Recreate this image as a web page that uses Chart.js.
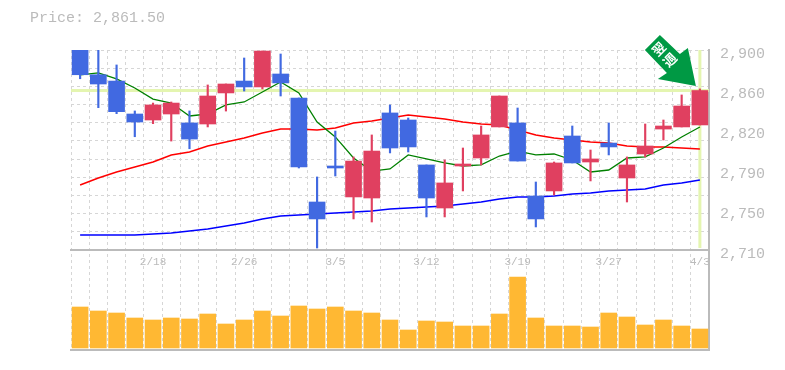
<!DOCTYPE html>
<html><head><meta charset="utf-8">
<style>html,body{margin:0;padding:0;background:#fff}#w{width:785px;height:370px;position:relative}</style>
<script src="https://cdn.jsdelivr.net/npm/chart.js@4"></script>
</head><body><div id="w"><canvas id="c" width="785" height="370"></canvas></div>
<script>
const categories=['2/12','2/13','2/14','2/15','2/18','2/19','2/20','2/21','2/22','2/26','2/27','2/28','3/1','3/4','3/5','3/6','3/7','3/8','3/11','3/12','3/13','3/14','3/15','3/18','3/19','3/20','3/22','3/25','3/26','3/27','3/28','3/29','4/1','4/2','4/3'];
const shownDates=['2/18','2/26','3/5','3/12','3/19','3/27','4/3'];
const opens=[2909.5,2876.5,2870.5,2839.2,2833.5,2839.2,2830.7,2829.7,2859.2,2870.5,2864.9,2877.2,2854.4,2755.6,2789.8,2760.4,2759.4,2840.2,2833.5,2790.8,2749.9,2789.8,2797.4,2826.9,2830.7,2761.3,2766.1,2818.3,2793.6,2811.6,2778.4,2801.2,2824.9,2826.9,2828.8];
const closes=[2876.5,2867.7,2841.4,2831.6,2847.8,2849.6,2815.4,2856.3,2867.7,2864.9,2899,2868.7,2788.9,2739.5,2787.9,2794.5,2804,2806.9,2807.9,2759.4,2773.7,2791.7,2819.3,2856.3,2794.5,2739.5,2792.7,2792.7,2796.5,2807.9,2790.8,2808.8,2827.8,2846.8,2861.5];
const highs=[2914,2904.8,2885.8,2842.1,2849.6,2850.6,2842.1,2866.8,2867.7,2892.4,2899,2896.2,2854.4,2779.4,2823,2798.4,2819.3,2847.8,2835.4,2790.8,2795.5,2806.9,2827.8,2856.3,2844.9,2774.6,2793.6,2827.8,2805,2830.7,2798.4,2829.7,2833.5,2857.3,2863];
const lows=[2872.7,2845.2,2839.5,2817.6,2830,2813.5,2806.2,2826.9,2842,2861,2863,2856.3,2787.9,2711.9,2780.3,2739.5,2736.6,2802.2,2803.1,2741.4,2741.4,2766.1,2790.8,2826.9,2794.5,2731.9,2762.3,2792.7,2775.6,2800.3,2755.6,2798.4,2814.5,2826.9,2828.8];
const maShort=[2876.3,2878.2,2872.5,2863.9,2853.4,2849.6,2837.3,2839.2,2847.8,2850.6,2860.1,2869.6,2859.2,2831.6,2817.4,2797.4,2785,2787,2800.3,2796.5,2792.7,2789.8,2790.8,2799.3,2804,2800.3,2801.2,2795.5,2784.1,2786,2797.4,2798.4,2806.9,2817.4,2826.9];
const maMid=[2771.8,2778.4,2784.1,2788.9,2793.6,2800.3,2803.1,2808.8,2812.6,2816.4,2821.2,2825,2825,2824,2825.9,2830.7,2832.6,2835.4,2838.3,2836.4,2834.5,2831.6,2829.7,2828.8,2824,2819.3,2816.4,2814.5,2812.6,2811.6,2808.8,2807.9,2807.9,2806.9,2806];
const maLong=[2724.3,2724.3,2724.3,2724.3,2725.2,2726.2,2728.1,2730,2732.8,2735.7,2739.5,2742.3,2743.3,2744.2,2745.2,2746.1,2747.1,2749,2749.9,2750.9,2751.8,2753.7,2755.6,2758.5,2760.4,2760.4,2761.3,2763.2,2764.2,2766.1,2767,2768,2771.8,2773.7,2776.5];
const volumes=[41,37,35,30,28,30,29,34,24,28,37,32,42,39,41,37,35,28,18,27,26,22,22,34,71,30,22,22,21,35,31,23,28,22,19];
const priceLabel='Price: 2,861.50';
const lastPrice=2861.5;
const yLabelValues=[2900,2862,2824,2786,2748,2710];
const arrowText=['翌','週'];

const BLUE='#4169E1',RED='#E04060',GREY='#bbbbbb',GRID='#d6d6d6',HILITE='#e4f5b0',GREEN='#009944';
const upDown=opens.map((o,i)=>closes[i]>=o?RED:BLUE);
const yMax=2900,yBase=2710,yMin=2615;
const gridValues=[];for(let k=0;k<=11;k++)gridValues.push(yMax-k*(yMax-yBase)/11);

const overlay={id:'overlay',
 beforeDatasetsDraw(ch){
  const {ctx,chartArea:a,scales:{x,y}}=ch;
  const py=y.getPixelForValue(lastPrice),px=x.getPixelForValue(categories.length-1);
  ctx.save();ctx.fillStyle=HILITE;
  ctx.fillRect(a.left,py-1.5,a.width,3);
  ctx.fillRect(px-1.5,a.top,3,y.getPixelForValue(yBase)-2-a.top);
  ctx.restore();
 },
 afterDatasetsDraw(ch){
  const {ctx,scales:{x,y}}=ch;
  const tx=x.getPixelForValue(categories.length-1)-4,ty=y.getPixelForValue(lastPrice)-4.5;
  const p=[[0,0],[-8,-38],[-16,-32],[-36,-51],[-51,-36],[-29,-13],[-38,-7]];
  ctx.save();ctx.translate(tx,ty);
  ctx.fillStyle=GREEN;ctx.beginPath();p.forEach((q,i)=>i?ctx.lineTo(q[0],q[1]):ctx.moveTo(q[0],q[1]));ctx.closePath();ctx.fill();
  ctx.fillStyle='#fff';ctx.font='bold 13px "Noto Sans CJK JP"';ctx.textAlign='center';ctx.textBaseline='middle';
  [[-37,-37],[-26,-26]].forEach((q,i)=>{ctx.save();ctx.translate(q[0],q[1]);ctx.rotate(-Math.PI/4);ctx.fillText(arrowText[i],0,0);ctx.restore();});
  ctx.restore();
 }};

new Chart(document.getElementById('c'),{
 type:'bar',
 plugins:[overlay],
 data:{labels:categories,datasets:[
  {type:'bar',label:'body',data:opens.map((o,i)=>[o,closes[i]]),backgroundColor:upDown,barThickness:16,grouped:false,order:1,xAxisID:'x',yAxisID:'y'},
  {type:'bar',label:'wick',data:lows.map((l,i)=>[l,highs[i]]),backgroundColor:upDown,barThickness:1.5,grouped:false,order:2,xAxisID:'x',yAxisID:'y'},
  {type:'line',label:'ma5',data:maShort,borderColor:'#008000',borderWidth:1.3,pointRadius:0,tension:0,order:3,xAxisID:'x',yAxisID:'y'},
  {type:'line',label:'ma25',data:maMid,borderColor:'#ff0000',borderWidth:1.5,pointRadius:0,tension:0,order:3,xAxisID:'x',yAxisID:'y'},
  {type:'line',label:'ma75',data:maLong,borderColor:'#0000ff',borderWidth:1.5,pointRadius:0,tension:0,order:3,xAxisID:'x',yAxisID:'y'},
  {type:'bar',label:'volume',data:volumes,backgroundColor:'#FFB833',barThickness:16,grouped:false,order:1,xAxisID:'x',yAxisID:'yVol'}
 ]},
 options:{
  responsive:false,animation:false,
  layout:{padding:{left:30,right:0,top:0,bottom:0}},
  plugins:{legend:{display:false},tooltip:{enabled:false},
   title:{display:true,text:priceLabel,align:'start',color:GREY,font:{family:'"Liberation Mono"',size:15,weight:'normal'},padding:{top:9,bottom:23}}},
  scales:{
   x:{type:'category',position:{y:yBase},offset:true,
      grid:{offset:true,color:GRID,lineWidth:1,drawTicks:false},
      border:{color:GREY,width:2,dash:[3,3]},
      ticks:{autoSkip:false,maxRotation:0,padding:5,color:GREY,font:{family:'"Liberation Mono"',size:11},
        callback(v){const l=this.getLabelForValue(v);return shownDates.includes(l)&&v%5===4?l:'';}}},
   xBottom:{type:'category',position:'bottom',labels:categories,offset:true,
      grid:{display:false,drawTicks:false},border:{color:GREY,width:2},ticks:{display:false},
      afterFit(s){s.height=20;}},
   y:{type:'linear',position:'right',min:yMin,max:yMax,
      afterBuildTicks(s){const vs=[...new Set([...gridValues,...yLabelValues])];s.ticks=vs.map(value=>({value}));},
      grid:{color(c){return gridValues.some(g=>Math.abs(g-c.tick.value)<1e-6)&&c.tick.value>yBase?GRID:'rgba(0,0,0,0)';},lineWidth:1,drawTicks:false},
      border:{color:GREY,width:2,dash:[3,3]},
      ticks:{padding:11,labelOffset:4,color:GREY,autoSkip:false,font:{family:'"Liberation Mono"',size:15},
        callback(v){return yLabelValues.includes(v)?(Math.round(v/10)*10).toLocaleString('en-US'):'';}},
      afterFit(s){s.width=76;}},
   yVol:{type:'linear',position:'left',min:-2,max:298,
      grid:{display:false,drawTicks:false},border:{display:false},ticks:{display:false},
      afterFit(s){s.width=41;}}
  }
 }
});
</script></body></html>
